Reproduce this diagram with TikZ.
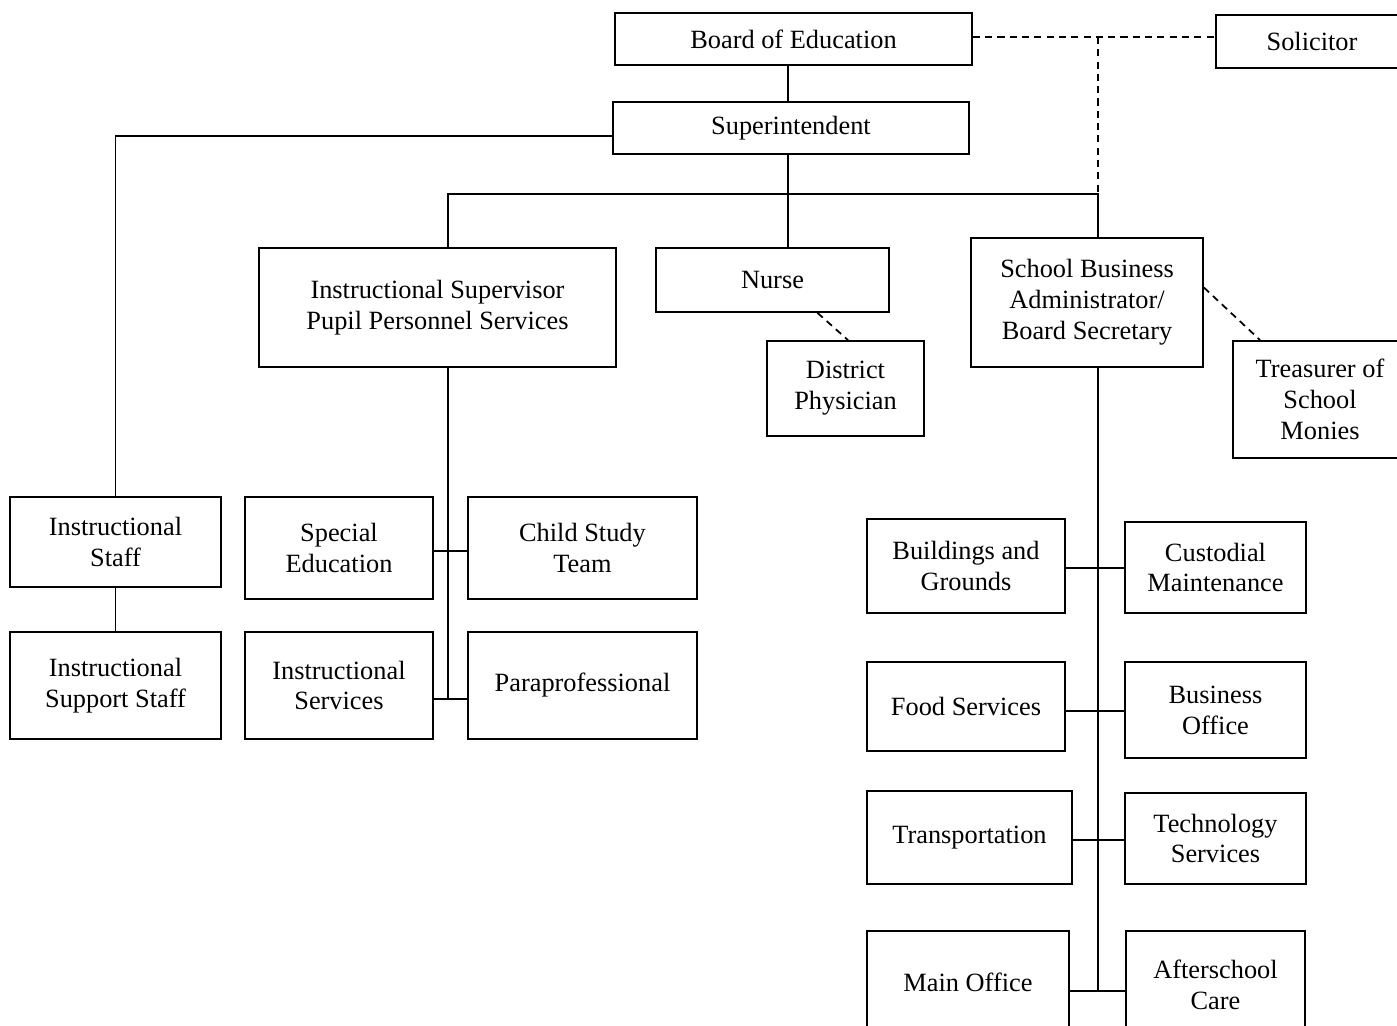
\documentclass[tikz,border=0pt]{standalone}
\usepackage{fontspec}
\setmainfont{Liberation Serif}
\usetikzlibrary{calc}

\begin{document}
\begin{tikzpicture}[x=0.02cm, y=-0.02cm, line width=1pt]
\tikzset{every node/.style={font=\fontsize{15}{17.6}\selectfont, align=center, inner sep=0pt}}
\tikzset{box/.style 2 args={draw, minimum width=#1*0.02cm, minimum height=#2*0.02cm}}
\tikzset{link/.style={dash pattern=on 4pt off 3pt}}

\clip (0, 0) rectangle (1397, 1025);

% Nodes for the board and the top
\node[box={357}{52}] at (793.5, 39) (board) {Board of Education};
\node[box={192}{53}] at (1312, 41.5) (solicitor) {Solicitor};
\node[box={356}{52}] at (791, 128) (super) {Superintendent};

% Nodes for the second row
\node[box={357}{119}] at (437.5, 307.5) (isps) {Instructional Supervisor\\Pupil Personnel Services};
\node[box={233}{64}] at (772.5, 280) (nurse) {Nurse};
\node[box={157}{95}] at (845.5, 388.5) (phys) {District\\Physician};
\node[box={232}{129}] at (1087, 302.5) (sba) {School Business\\Administrator/\\Board Secretary};
\node[box={174}{117}] at (1320, 399.5) (treasurer) {Treasurer of\\School\\Monies};

% Nodes for instruction
\node[box={211}{90}] at (115.5, 542) (istaff) {Instructional\\Staff};
\node[box={211}{107}] at (115.5, 685.5) (isupport) {Instructional\\Support Staff};
\node[box={188}{102}] at (339, 548) (sped) {Special\\Education};
\node[box={229}{102}] at (582.5, 548) (cst) {Child Study\\Team};
\node[box={188}{107}] at (339, 685.5) (iserv) {Instructional\\Services};
\node[box={229}{107}] at (582.5, 685.5) (para) {Paraprofessional};

% Nodes for business
\node[box={198}{94}] at (966, 566) (bg) {Buildings and\\Grounds};
\node[box={181}{91}] at (1215.5, 567.5) (cust) {Custodial\\Maintenance};
\node[box={198}{89}] at (966, 706.5) (food) {Food Services};
\node[box={181}{96}] at (1215.5, 710) (bizoff) {Business\\Office};
\node[box={205}{93}] at (969.5, 837.5) (trans) {Transportation};
\node[box={181}{91}] at (1215.5, 838.5) (tech) {Technology\\Services};
\node[box={202}{102}] at (968, 982) (main) {Main Office};
\node[box={179}{108}] at (1215.5, 985) (after) {Afterschool\\Care};

% Branch points
\coordinate (trunk) at (788, 194);
\coordinate (hl) at (448, 194);
\coordinate (hr) at (1098, 194);
\coordinate (l1) at (448, 551);
\coordinate (l2) at (448, 699);
\coordinate (b1) at (1098, 568);
\coordinate (b2) at (1098, 711);
\coordinate (b3) at (1098, 840);
\coordinate (b4) at (1098, 991);

% Lines for the top
\draw (board.south -| trunk) -- (super.north -| trunk);
\draw (super.south -| trunk) -- (trunk);
\draw (hl |- isps.north) -- (hl) -- (hr) -- (hr |- sba.north);
\draw (trunk) -- (trunk |- nurse.north);
\draw ($(super.west)+(0, 8)$) -| (istaff.north);

% Dashed lines
\draw[link] ($(board.east)+(0, -2)$) -- ($(board.east -| solicitor.west)+(0, -2)$);
\draw[link] ($(hr |- board.east)+(0, -2)$) -- (hr |- sba.north);
\draw[link] ($(nurse.south)+(45, 0)$) -- ($(phys.north)+(2.5, 0)$);
\draw[link] ($(sba.east)+(0, -15)$) -- ($(treasurer.north west)+(28, 0)$);

% Lines for instruction
\draw (istaff.south) -- (isupport.north);
\draw (hl |- isps.south) -- (l2);
\draw (sped.east |- l1) -- (cst.west |- l1);
\draw (iserv.east |- l2) -- (para.west |- l2);

% Lines for business
\draw (hr |- sba.south) -- (b4);
\draw (bg.east |- b1) -- (cust.west |- b1);
\draw (food.east |- b2) -- (bizoff.west |- b2);
\draw (trans.east |- b3) -- (tech.west |- b3);
\draw (main.east |- b4) -- (after.west |- b4);
\end{tikzpicture}
\end{document}
